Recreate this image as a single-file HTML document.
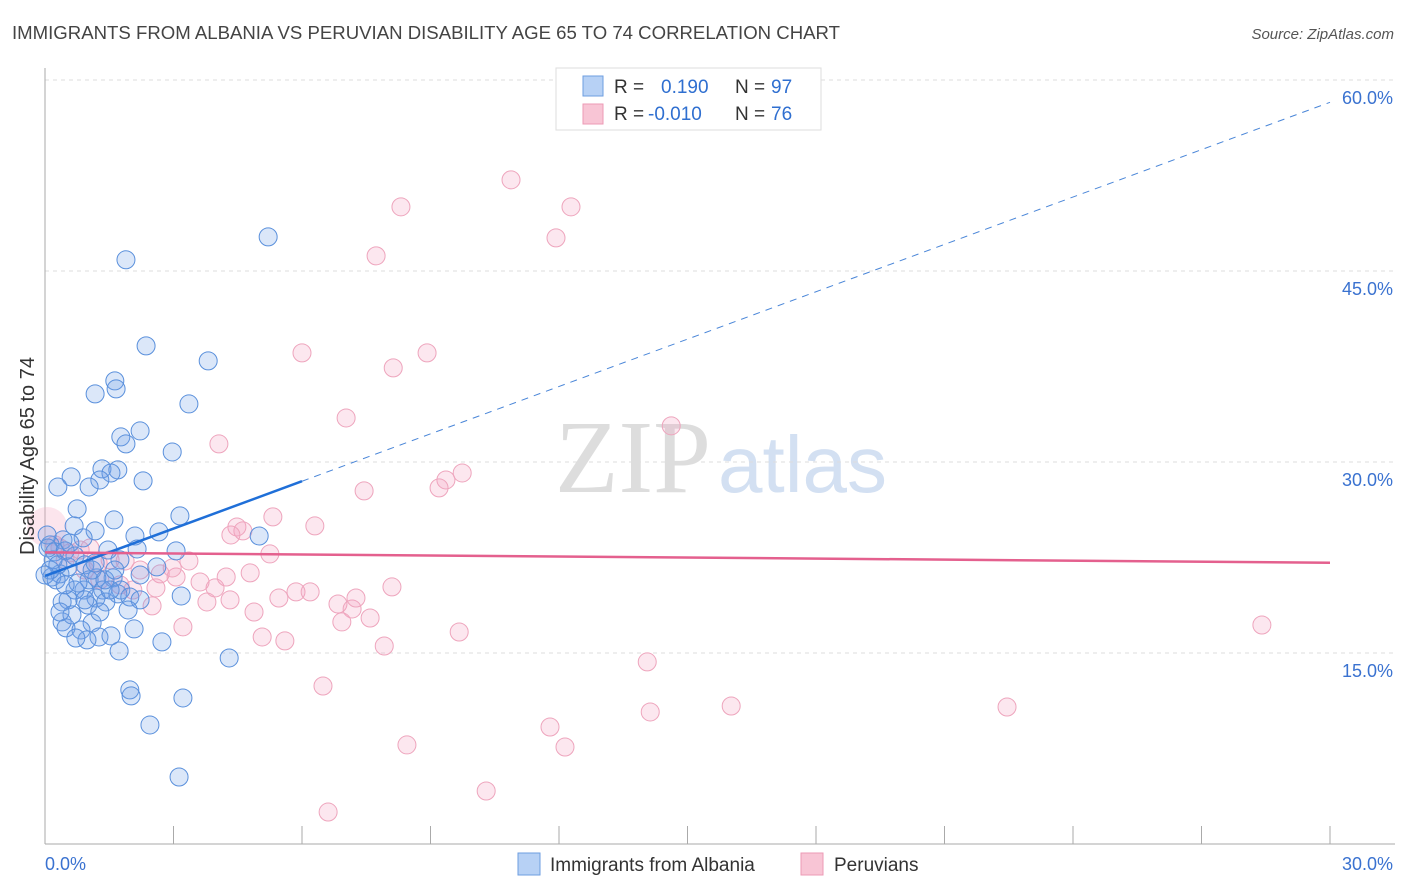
<!DOCTYPE html>
<html><head><meta charset="utf-8"><style>
body{margin:0;background:#fff;font-family:"Liberation Sans",sans-serif}
svg{display:block}
</style></head><body>
<svg id="chart" width="1406" height="892" font-family="Liberation Sans, sans-serif">
<text x="12" y="39" font-size="18.6" fill="#444">IMMIGRANTS FROM ALBANIA VS PERUVIAN DISABILITY AGE 65 TO 74 CORRELATION CHART</text>
<text x="1394" y="39" font-size="15" fill="#555" text-anchor="end" font-style="italic">Source: ZipAtlas.com</text>
<text x="555" y="492" font-size="104" fill="#ddd" font-family="Liberation Serif, serif">ZIP</text>
<text x="718" y="492" font-size="80" fill="#d3e0f2">atlas</text>
<g id="grid"></g>
<g id="axes"></g>
<g id="pts"></g>
<g id="lines"></g>
<text transform="translate(34,456) rotate(-90)" font-size="20" fill="#333" text-anchor="middle">Disability Age 65 to 74</text>
<g>
<rect x="556" y="68" width="265" height="62" fill="#fff" stroke="#ddd"/>
<rect x="583" y="76" width="20" height="20" fill="#b7d1f5" stroke="#6e9ee0"/>
<rect x="583" y="104" width="20" height="20" fill="#f8c5d5" stroke="#ec9ab5"/>
<text x="614" y="93" font-size="19" fill="#333">R = <tspan x="661" fill="#2f6fd0">0.190</tspan><tspan x="735" fill="#333">N = </tspan><tspan x="771" fill="#2f6fd0">97</tspan></text>
<text x="614" y="120" font-size="19" fill="#333">R = <tspan x="648" fill="#2f6fd0">-0.010</tspan><tspan x="735" fill="#333">N = </tspan><tspan x="771" fill="#2f6fd0">76</tspan></text>
</g>
<g>
<rect x="518" y="853" width="22" height="22" fill="#b7d1f5" stroke="#6e9ee0"/>
<text x="550" y="871" font-size="19" fill="#333">Immigrants from Albania</text>
<rect x="801" y="853" width="22" height="22" fill="#f8c5d5" stroke="#ec9ab5"/>
<text x="834" y="871" font-size="19" fill="#333">Peruvians</text>
</g>
</svg>
<script>
const yTicks=[15,30,45,60];
const yTickLabels=["15.0%","30.0%","45.0%","60.0%"];
const xTickLabels=["0.0%","30.0%"];
const blueX=[5.21,1.89,2.36,3.81,1.63,1.66,1.17,3.36,2.22,1.77,1.89,2.97,1.33,1.70,1.54,0.61,1.28,1.03,0.30,2.29,3.15,0.75,1.61,0.68,2.66,5.00,2.10,1.17,0.89,3.06,2.15,1.47,0.42,0.12,0.05,0.23,0.47,0.70,1.75,0.93,2.61,2.22,1.59,1.21,0.35,0.16,0.54,1.03,1.35,1.77,0.91,0.70,1.19,1.70,1.98,3.18,0.54,0.40,1.42,0.26,0.19,0.40,0.49,1.10,0.84,1.26,1.54,0.98,2.08,0.72,1.73,2.73,4.30,1.98,2.01,3.22,2.45,3.13,0.07,0.30,0.58,1.10,1.52,2.22,0.77,0.12,0.00,0.47,1.00,1.17,1.94,0.63,1.28,0.35,1.40,0.93,1.63];
const blueY=[47.68,45.88,39.12,37.94,36.37,35.74,35.35,34.56,32.44,31.97,31.42,30.79,29.46,29.38,29.14,28.83,28.59,28.04,28.04,28.52,25.77,26.32,25.45,24.98,24.51,24.19,24.19,24.59,24.04,23.02,23.17,23.09,23.88,23.49,24.27,22.94,23.02,22.62,22.31,21.92,21.76,21.13,20.90,20.90,21.21,20.97,21.76,20.74,19.95,19.95,19.95,19.95,19.32,19.64,19.40,19.48,19.17,19.01,19.01,20.74,22.31,17.44,16.97,17.36,16.81,16.26,16.34,16.03,16.89,16.18,15.16,15.87,14.61,12.10,11.63,11.47,9.35,5.26,23.25,21.92,23.64,21.52,19.95,19.17,20.50,21.52,21.13,20.35,18.77,22.07,18.38,17.99,18.22,18.22,20.74,19.17,21.52];
const pinkX=[10.88,8.31,12.28,11.93,7.73,6.00,8.92,8.13,7.03,4.06,14.62,9.74,9.36,9.20,7.45,5.32,6.30,4.48,4.62,4.34,5.25,3.36,1.52,1.24,1.87,2.22,2.69,3.06,3.62,3.97,2.97,4.23,4.79,0.58,0.82,0.35,0.23,1.05,1.75,2.05,2.59,3.78,2.50,4.88,5.46,5.86,6.19,6.84,7.17,7.26,6.93,7.59,8.10,3.22,5.07,5.60,7.92,9.67,14.06,6.49,14.13,16.02,22.46,28.41,11.79,12.14,8.45,10.30,6.61,1.28,0.47,0.93,4.32];
const pinkY=[52.16,50.04,50.04,47.60,46.19,38.57,38.57,37.39,33.46,31.42,32.84,29.14,28.59,27.97,27.73,25.69,24.98,24.90,24.59,24.27,22.78,22.23,22.31,22.07,22.23,21.52,21.21,20.97,20.58,20.11,21.68,20.97,21.29,22.86,23.09,23.25,23.49,23.25,20.35,19.95,20.11,19.01,18.70,18.22,19.32,19.80,19.80,18.85,18.46,19.32,17.44,17.75,20.19,17.05,16.26,15.95,15.55,16.65,14.30,12.41,10.37,10.84,10.76,17.20,9.19,7.62,7.78,4.16,2.51,20.74,22.31,21.52,19.17];
const blueTrend=[21.05,1.24];
const pinkTrend=[22.9,-0.027];
const X0=45,X1=1330,Y0=844,Y60=80;
const sx=v=>X0+(X1-X0)*v/30;
const sy=v=>Y0-(Y0-Y60)*v/60;
const NS="http://www.w3.org/2000/svg";
function mk(tag,attrs,parent){const e=document.createElementNS(NS,tag);for(const k in attrs)e.setAttribute(k,attrs[k]);parent.appendChild(e);return e;}
const grid=document.getElementById('grid'),axes=document.getElementById('axes'),pts=document.getElementById('pts'),lines=document.getElementById('lines');
yTicks.forEach((t,i)=>{
  const g=mk('line',{x1:X0,x2:1395,y1:sy(t),y2:sy(t),stroke:'#ddd','stroke-dasharray':'4,4'},grid);
  
  
  const tx=mk('text',{x:1393,y:sy(t)+24,'font-size':18,fill:'#3a72d0','text-anchor':'end'},grid);
  tx.textContent=yTickLabels[i];
  
  
});
const ax=mk('line',{x1:X0,x2:1395,y1:Y0,y2:Y0,stroke:'#aaa'},axes);


const ay=mk('line',{x1:X0,x2:X0,y1:68,y2:Y0,stroke:'#aaa'},axes);


for(let i=0;i<=10;i++){
  const t=mk('line',{x1:sx(i*3),x2:sx(i*3),y1:826,y2:Y0,stroke:'#aaa'},axes);
  
  
}
const xl0=mk('text',{x:45,y:870,'font-size':18,fill:'#3a72d0'},axes);xl0.textContent=xTickLabels[0];


const xl1=mk('text',{x:1393,y:870,'font-size':18,fill:'#3a72d0','text-anchor':'end'},axes);xl1.textContent=xTickLabels[1];


const big=mk('circle',{cx:sx(0.05),cy:sy(24.9),r:20,fill:'rgba(245,170,195,0.3)',stroke:'none'},pts);


pinkX.forEach((x,i)=>{
  const c=mk('circle',{cx:sx(x),cy:sy(pinkY[i]),r:9,fill:'rgba(245,160,190,0.25)',stroke:'#eea5bd','stroke-width':1},pts);
  
  
});
blueX.forEach((x,i)=>{
  const c=mk('circle',{cx:sx(x),cy:sy(blueY[i]),r:9,fill:'rgba(110,160,230,0.25)',stroke:'#5a90dc','stroke-width':1},pts);
  
  
});
const bl=mk('line',{x1:sx(0),y1:sy(blueTrend[0]),x2:sx(6),y2:sy(blueTrend[0]+blueTrend[1]*6),stroke:'#1f6fd8','stroke-width':2.5},lines);


const bd=mk('line',{x1:sx(6),y1:sy(blueTrend[0]+blueTrend[1]*6),x2:sx(30),y2:sy(blueTrend[0]+blueTrend[1]*30),stroke:'#4a86d8','stroke-width':1,'stroke-dasharray':'7,6'},lines);


const pl=mk('line',{x1:sx(0),y1:sy(pinkTrend[0]),x2:sx(30),y2:sy(pinkTrend[0]+pinkTrend[1]*30),stroke:'#e4608e','stroke-width':2.5},lines);


</script>
</body></html>
